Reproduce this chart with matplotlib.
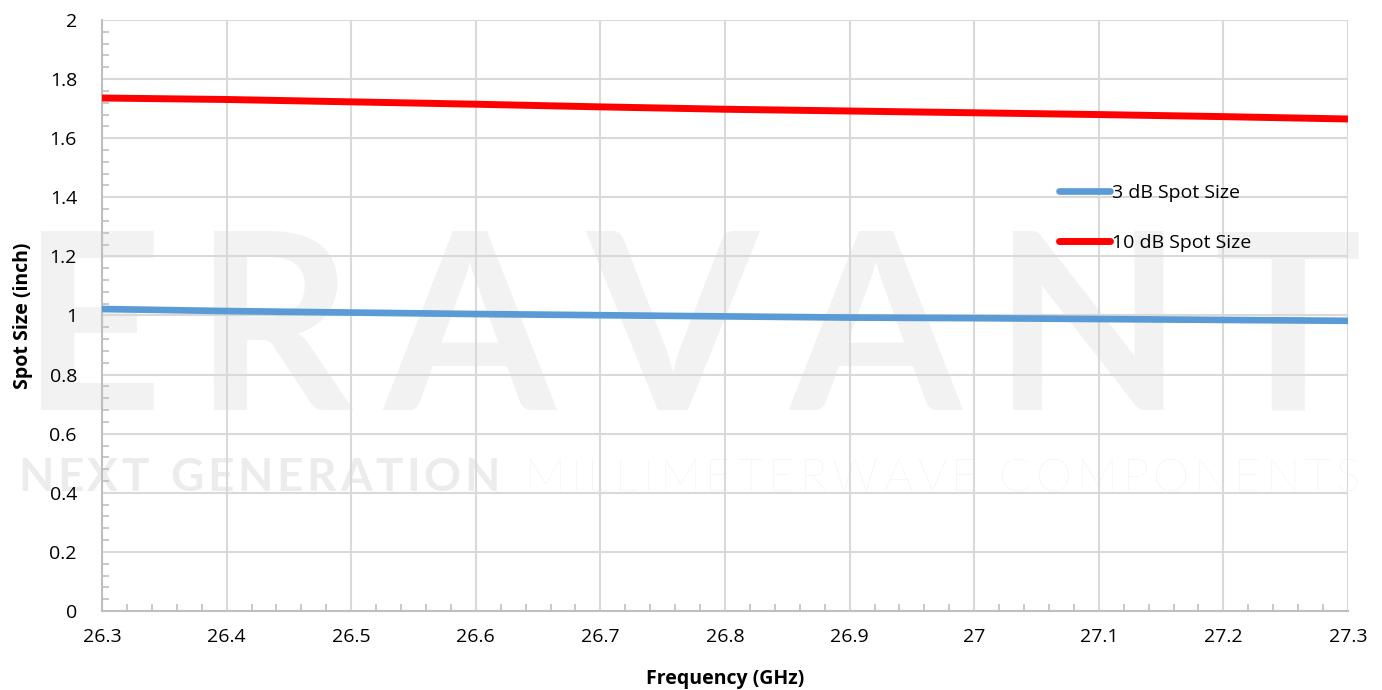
import numpy as np
import matplotlib
matplotlib.use("Agg")
import matplotlib.pyplot as plt
from matplotlib.ticker import MultipleLocator, FuncFormatter

plt.rcParams['font.family'] = ['Open Sans', 'DejaVu Sans']

# values
freq = [26.3, 26.4, 26.5, 26.6, 26.7, 26.8, 26.9, 27.0, 27.1, 27.2, 27.3]
spot_3db = [1.022, 1.015, 1.010, 1.005, 1.001, 0.997, 0.993, 0.991, 0.988, 0.985, 0.982]
spot_10db = [1.736, 1.731, 1.723, 1.715, 1.706, 1.698, 1.692, 1.686, 1.680, 1.673, 1.665]
labels = ["3 dB Spot Size", "10 dB Spot Size"]

W, H = 1382, 690
fig = plt.figure(figsize=(W / 100, H / 100), dpi=100)
ax = fig.add_axes([102 / W, 79 / H, 1246 / W, 591 / H])
ax.patch.set_alpha(0)


def tracked(s, x0, x1, y, **kw):
    # spread the letters of s evenly between pixel x0 and x1 (watermark)
    r = fig.canvas.get_renderer()
    ws = []
    for ch in s:
        t = fig.text(0, 0, 'I' if ch == ' ' else ch, **kw)
        ws.append(t.get_window_extent(r).width)
        t.remove()
    gap = (x1 - x0 - sum(ws)) / (len(s) - 1)
    x = x0
    for ch, w in zip(s, ws):
        if ch != ' ':
            fig.text(x / W, y, ch, ha='left', va='baseline', **kw)
        x += w + gap


# faint watermark behind the plot
tracked("ERAVANT", 20, 1362, 1 - 410 / H, fontsize=178, color="#f2f2f2",
        family='Lato', weight='bold', zorder=-5)
tracked("NEXT GENERATION", 18, 500, 1 - 491 / H, fontsize=33, color="#ececec",
        family='Lato', weight='bold', zorder=-5)
tracked("MILLIMETERWAVE COMPONENTS", 525, 1360, 1 - 491 / H, fontsize=33, color="#efefef",
        family='Lato', weight='light', zorder=-5)

ax.plot(freq, spot_3db, color="#5b9bd5", lw=4.8, solid_capstyle='round', label=labels[0], zorder=3)
ax.plot(freq, spot_10db, color="#ff0000", lw=5.0, solid_capstyle='round', label=labels[1], zorder=3)

ax.set_xlim(26.3, 27.3)
ax.set_ylim(0, 2)
ax.xaxis.set_major_locator(MultipleLocator(0.1))
ax.xaxis.set_minor_locator(MultipleLocator(0.02))
ax.yaxis.set_major_locator(MultipleLocator(0.2))
ax.yaxis.set_minor_locator(MultipleLocator(0.04))
ax.xaxis.set_major_formatter(FuncFormatter(lambda v, p: f"{v:.10g}"))
ax.yaxis.set_major_formatter(FuncFormatter(lambda v, p: f"{v:.10g}"))

ax.grid(True, which='major', color="#d9d9d9", lw=1.5, zorder=1)
for s in ['top', 'right']:
    ax.spines[s].set_visible(False)
for s in ['left', 'bottom']:
    ax.spines[s].set_color("#bfbfbf")
    ax.spines[s].set_linewidth(1.5)
ax.tick_params(which='major', length=0, labelsize=14, colors='black')
ax.tick_params(axis='y', which='major', pad=18)
ax.tick_params(axis='x', which='major', pad=12)
ax.tick_params(which='minor', direction='in', length=5, width=1.2, color="#bfbfbf")

ax.set_xlabel("Frequency (GHz)", fontsize=14, weight='bold', labelpad=17)
ax.set_ylabel("Spot Size (inch)", fontsize=14, weight='bold', labelpad=12)

ax.legend(loc='upper left', bbox_to_anchor=(0.754, 0.752), frameon=False, fontsize=14,
          handlelength=2.6, handletextpad=0.15, labelspacing=1.65)

fig.savefig("out.png", dpi=100)
